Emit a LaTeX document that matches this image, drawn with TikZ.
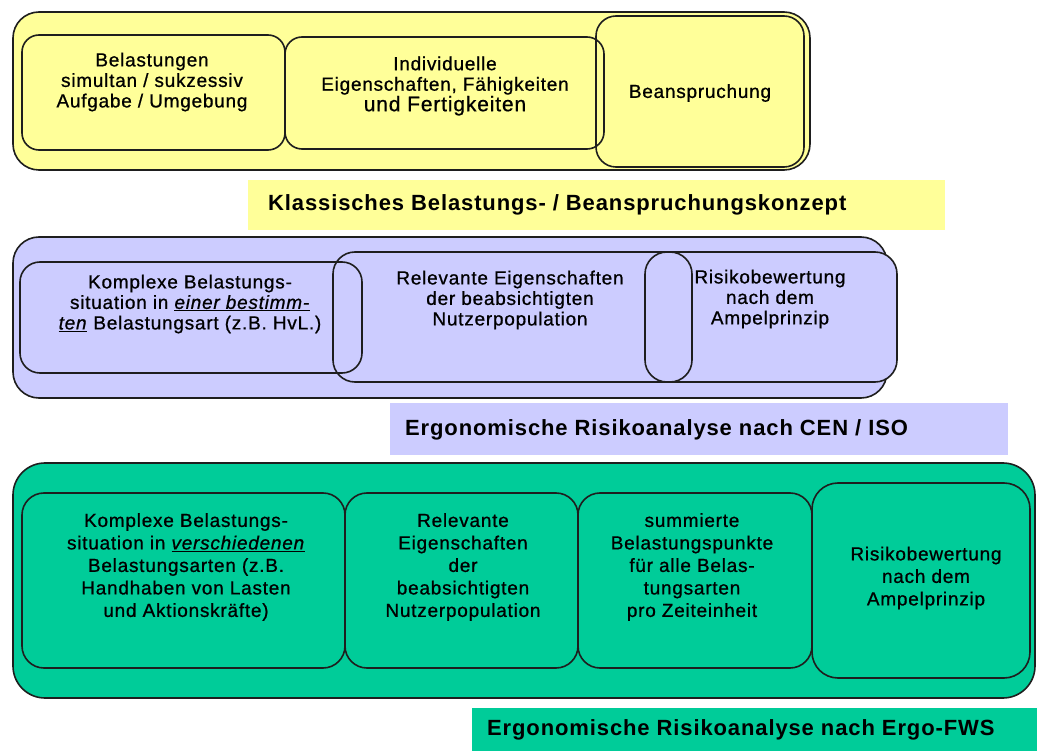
\documentclass[tikz,border=0pt]{standalone}
\usepackage{fontspec}
\setmainfont{Liberation Sans}
\newfontfamily\boxfont{Liberation Sans}[LetterSpace=4,FakeBold=0.8]
\newfontfamily\labfont{Liberation Sans}[LetterSpace=4]
\usetikzlibrary{fit}
\definecolor{ylw}{HTML}{FFFF99}
\definecolor{lav}{HTML}{CCCCFF}
\definecolor{grn}{HTML}{00CC99}
\definecolor{edgec}{HTML}{1E1E1E}
\tikzset{
  frame/.style={draw=edgec, line width=1.6pt, rounded corners=#1, inner sep=0pt, outer sep=0pt},
  labbox/.style={inner sep=0pt, outer sep=0pt},
  txt/.style={align=center, inner sep=0pt, font=\boxfont\fontsize{19}{20.5}\selectfont},
  gtxt/.style={align=center, inner sep=0pt, font=\boxfont\fontsize{19}{22.5}\selectfont},
  labtxt/.style={anchor=west, inner sep=0pt, font=\labfont\fontsize{22}{24}\selectfont\bfseries}
}
\begin{document}
\begin{tikzpicture}[x=1pt,y=-1pt]
\useasboundingbox (0,0) rectangle (1037,751);
% ---------- yellow ----------
\node[frame=26pt, fill=ylw, fit={(13,12) (810,170)}] (yOuter) {};
\node[frame=20pt, fit={(596,16) (804,167)}] (yB3) {};
\node[frame=17pt, fit={(285,37) (604,149)}] (yB2) {};
\node[frame=17pt, fit={(22,35) (285,150)}] (yB1) {};
\node[txt] (yT1) at (152,82) {Belastungen\\simultan / sukzessiv\\Aufgabe / Umgebung};
\node[txt] (yT2) at (445,86) {Individuelle\\Eigenschaften, Fähigkeiten\\{\fontsize{21}{24}\selectfont und Fertigkeiten}};
\node[txt] (yT3) at (700,93) {Beanspruchung};
\node[labbox, fill=ylw, fit={(248,180) (945,230)}] (yLab) {};
\node[labtxt] (yLabT) at (268,205) {Klassisches Belastungs- / Beanspruchungskonzept};
% ---------- lavender ----------
\node[frame=26pt, fill=lav, fit={(13,237) (887,398)}] (bOuter) {};
\node[frame=22pt, fill=lav, fit={(645,252) (897,382)}] (bB3) {};
\node[frame=22pt, fit={(333,252) (692,382)}] (bB2) {};
\node[frame=20pt, fit={(20,262) (362,373)}] (bB1) {};
\node[txt] (bT1) at (190,304) {Komplexe Belastungs-\\situation in \underline{\textit{einer bestimm-}}\\\underline{\textit{ten}} Belastungsart (z.B. HvL.)};
\node[txt] (bT2) at (510,300) {Relevante Eigenschaften\\der beabsichtigten\\Nutzerpopulation};
\node[txt] (bT3) at (770,299) {Risikobewertung\\nach dem\\Ampelprinzip};
\node[labbox, fill=lav, fit={(390,403) (1008,455)}] (bLab) {};
\node[labtxt] (bLabT) at (405,430) {Ergonomische Risikoanalyse nach CEN / ISO};
% ---------- green ----------
\node[frame=32pt, fill=grn, fit={(13,463) (1035,698)}] (gOuter) {};
\node[frame=22pt, fit={(22,493) (345,668)}] (gB1) {};
\node[frame=22pt, fit={(345,493) (578,668)}] (gB2) {};
\node[frame=22pt, fit={(578,493) (812,668)}] (gB3) {};
\node[frame=26pt, fit={(812,483) (1030,678)}] (gB4) {};
\node[gtxt] (gT1) at (186,567) {Komplexe Belastungs-\\situation in \underline{\textit{verschiedenen}}\\Belastungsarten (z.B.\\Handhaben von Lasten\\und Aktionskräfte)};
\node[gtxt] (gT2) at (463,567) {Relevante\\Eigenschaften\\der\\beabsichtigten\\Nutzerpopulation};
\node[gtxt] (gT3) at (692,567) {summierte\\Belastungspunkte\\für alle Belas-\\tungsarten\\pro Zeiteinheit};
\node[gtxt] (gT4) at (926,578) {Risikobewertung\\nach dem\\Ampelprinzip};
\node[labbox, fill=grn, fit={(472,708) (1037,751)}] (gLab) {};
\node[labtxt] (gLabT) at (487,730) {Ergonomische Risikoanalyse nach Ergo-FWS};
\end{tikzpicture}
\end{document}
